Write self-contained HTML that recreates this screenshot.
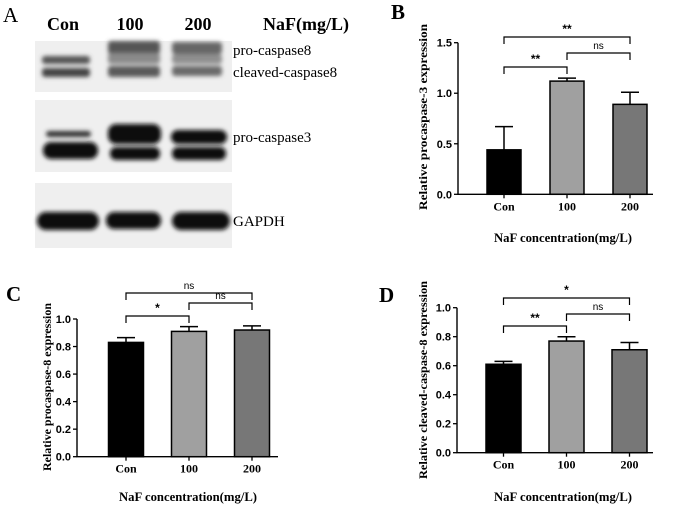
<!DOCTYPE html>
<html><head><meta charset="utf-8"><style>
html,body{margin:0;padding:0;background:#fff}
svg{display:block}
.serif{font-family:"Liberation Serif",serif}
.sans{font-family:"Liberation Sans",sans-serif}
</style></head><body>
<svg id="fig" width="678" height="505" viewBox="0 0 678 505" xmlns="http://www.w3.org/2000/svg">
<defs>
<filter id="blur2" x="-20%" y="-50%" width="140%" height="200%"><feGaussianBlur stdDeviation="2.2"/></filter>
</defs>
<g id="panelA">
  <text x="3" y="22" class="serif" font-size="21">A</text>
  <text x="63" y="30" class="serif" font-size="18" font-weight="bold" text-anchor="middle">Con</text>
  <text x="130" y="30" class="serif" font-size="18" font-weight="bold" text-anchor="middle">100</text>
  <text x="198" y="30" class="serif" font-size="18" font-weight="bold" text-anchor="middle">200</text>
  <text x="263" y="30" class="serif" font-size="18" font-weight="bold">NaF(mg/L)</text>

  <rect x="35" y="41" width="197" height="51" fill="#efefef"/>
  <g filter="url(#blur2)">
    <rect x="42" y="56" width="48" height="8" rx="3" fill="#555"/>
    <rect x="42" y="68" width="48" height="9" rx="3" fill="#444"/>
    <rect x="108" y="41" width="52" height="13" rx="3" fill="#555"/>
    <rect x="108" y="53" width="52" height="11" rx="3" fill="#8a8a8a"/>
    <rect x="108" y="66" width="52" height="11" rx="3" fill="#5a5a5a"/>
    <rect x="172" y="42" width="50" height="12" rx="3" fill="#666"/>
    <rect x="172" y="54" width="50" height="10" rx="3" fill="#8f8f8f"/>
    <rect x="172" y="66" width="50" height="10" rx="3" fill="#6a6a6a"/>
  </g>
  <text x="233" y="55" class="serif" font-size="15">pro-caspase8</text>
  <text x="233" y="77" class="serif" font-size="15">cleaved-caspase8</text>

  <rect x="35" y="100" width="197" height="72" fill="#efefef"/>
  <g filter="url(#blur2)">
    <rect x="46" y="131" width="45" height="6" rx="3" fill="#333"/>
    <rect x="43" y="142" width="55" height="17" rx="8" fill="#080808"/>
    <rect x="108" y="124" width="53" height="20" rx="8" fill="#080808"/>
    <rect x="110" y="147" width="50" height="13" rx="6" fill="#111"/>
    <rect x="171" y="130" width="56" height="14" rx="7" fill="#080808"/>
    <rect x="172" y="147" width="54" height="13" rx="6" fill="#111"/>
  </g>
  <text x="233" y="142" class="serif" font-size="15">pro-caspase3</text>

  <rect x="35" y="183" width="197" height="65" fill="#efefef"/>
  <g filter="url(#blur2)">
    <rect x="37" y="212" width="62" height="18" rx="9" fill="#080808"/>
    <rect x="106" y="212" width="55" height="17" rx="8" fill="#080808"/>
    <rect x="172" y="212" width="58" height="18" rx="9" fill="#080808"/>
  </g>
  <text x="233" y="226" class="serif" font-size="15">GAPDH</text>
</g>
<g id="charts"></g>
</svg>
<script>
const categories = ["Con", "100", "200"];
const barColors = ["#000000", "#a0a0a0", "#777777"];
const bValues = [0.44, 1.12, 0.89];
const bErrors = [0.23, 0.03, 0.12];
const bTicks = [0.0, 0.5, 1.0, 1.5];
const bSig = [["Con","200","**"],["100","200","ns"],["Con","100","**"]];
const cValues = [0.83, 0.91, 0.92];
const cErrors = [0.035, 0.035, 0.03];
const cTicks = [0.0, 0.2, 0.4, 0.6, 0.8, 1.0];
const cSig = [["Con","200","ns"],["100","200","ns"],["Con","100","*"]];
const dValues = [0.61, 0.77, 0.71];
const dErrors = [0.02, 0.03, 0.05];
const dTicks = [0.0, 0.2, 0.4, 0.6, 0.8, 1.0];
const dSig = [["Con","200","*"],["100","200","ns"],["Con","100","**"]];

const NS = "http://www.w3.org/2000/svg";
const root = document.getElementById('charts');
function mk(tag, attrs, parent){const e=document.createElementNS(NS,tag);for(const k in attrs)e.setAttribute(k,attrs[k]);parent.appendChild(e);return e;}

function drawPanel(cfg, values, errors, ticks, sig){
  const g = mk('g',{},root);
  
  
  const yMax = ticks[ticks.length-1];
  const y = v => cfg.y0 - (v / yMax) * (cfg.y0 - cfg.yTop);
  const x = i => cfg.x0 + cfg.firstC + i * cfg.step;
  const xc = c => x(categories.indexOf(c));
  const lbl = mk('text',{x:cfg.lx,y:cfg.ly,'class':'serif','font-size':21,'font-weight':'bold'},g);
  lbl.textContent = cfg.id.toUpperCase();
  
  
  values.forEach((v,i)=>{
    const r = mk('rect',{x:x(i)-cfg.bw/2,y:y(v),width:cfg.bw,height:cfg.y0-y(v),fill:barColors[i],stroke:'#000','stroke-width':1.5},g);
    
    
    const e = mk('path',{d:`M${x(i)} ${y(v)} V${y(v+errors[i])} M${x(i)-9} ${y(v+errors[i])} H${x(i)+9}`,stroke:'#000','stroke-width':1.5,fill:'none'},g);
    
    
    const t = mk('text',{x:x(i),y:cfg.y0+16,'text-anchor':'middle','class':'serif','font-size':12,'font-weight':'bold'},g);
    t.textContent = categories[i];
    
    
    const tk = mk('line',{x1:x(i),x2:x(i),y1:cfg.y0,y2:cfg.y0+4,stroke:'#000','stroke-width':1.3},g);
    
    
  });
  const ax = mk('path',{d:`M${cfg.x0} ${y(yMax)} V${cfg.y0} H${cfg.xEnd}`,stroke:'#000','stroke-width':1.4,fill:'none'},g);
  
  
  ticks.forEach(tv=>{
    const l = mk('line',{x1:cfg.x0-4,x2:cfg.x0,y1:y(tv),y2:y(tv),stroke:'#000','stroke-width':1.3},g);
    
    
    const t = mk('text',{x:cfg.x0-6,y:y(tv)+4,'text-anchor':'end','class':'sans','font-size':11,'font-weight':'bold'},g);
    t.textContent = tv.toFixed(1);
    
    
  });
  const yt = mk('text',{x:0,y:0,transform:`translate(${cfg.ytx},${cfg.yty}) rotate(-90)`,'text-anchor':'middle','class':'serif','font-size':12,'font-weight':'bold',textLength:cfg.ytl,lengthAdjust:'spacingAndGlyphs'},g);
  yt.textContent = cfg.ytitle;
  
  
  const xt = mk('text',{x:cfg.xtx,y:cfg.xty,'text-anchor':'middle','class':'serif','font-size':12.5,'font-weight':'bold',textLength:138,lengthAdjust:'spacingAndGlyphs'},g);
  xt.textContent = 'NaF concentration(mg/L)';
  
  
  sig.forEach((s,k)=>{
    const by = cfg.brY[k];
    const x1 = xc(s[0]), x2 = xc(s[1]);
    const p = mk('path',{d:`M${x1} ${by+7} V${by} H${x2} V${by+7}`,stroke:'#000','stroke-width':1.2,fill:'none'},g);
    
    
    const t = mk('text',{x:(x1+x2)/2,y:by-4,'text-anchor':'middle','class':'sans','font-size':s[2]==='ns'?10:12,'font-weight':s[2]==='ns'?'normal':'bold'},g);
    t.textContent = s[2];
    
    
  });
}

drawPanel({id:'b',x0:458,xEnd:653,y0:194.3,yTop:42.7,firstC:46,step:63,bw:34,lx:391,ly:19,
  ytitle:'Relative procaspase-3 expression',ytl:186,ytx:427,yty:117,xtx:563,xty:242,brY:[37,53,67]},
  bValues,bErrors,bTicks,bSig);
drawPanel({id:'c',x0:77,xEnd:278,y0:456.7,yTop:319,firstC:49,step:63,bw:35,lx:6,ly:301,
  ytitle:'Relative procaspase-8 expression',ytl:168,ytx:51,yty:387,xtx:188,xty:501,brY:[293,303,316]},
  cValues,cErrors,cTicks,cSig);
drawPanel({id:'d',x0:457,xEnd:653,y0:452.7,yTop:307.7,firstC:46.5,step:63,bw:35,lx:379,ly:302,
  ytitle:'Relative cleaved-caspase-8 expression',ytl:198,ytx:427,yty:380,xtx:563,xty:501,brY:[298,314,326]},
  dValues,dErrors,dTicks,dSig);
</script>
</body></html>
